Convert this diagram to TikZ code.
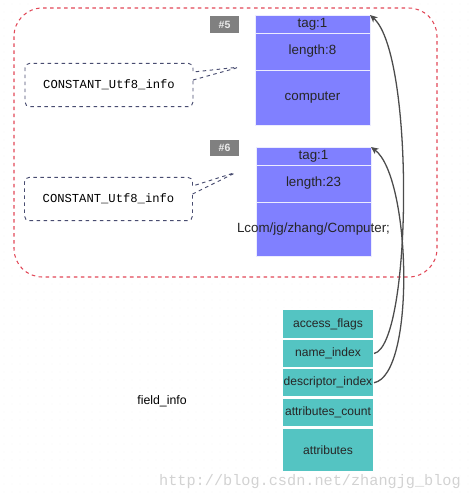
\documentclass[tikz,border=0pt]{standalone}
\usepackage{fontspec}
\setmainfont{Liberation Sans}
\newfontfamily\cpmono{Liberation Mono}
\usetikzlibrary{arrows.meta,positioning,shapes.callouts}
\definecolor{cpviolet}{RGB}{128,128,255}
\definecolor{cpteal}{RGB}{84,196,194}
\definecolor{cpred}{RGB}{226,72,88}
\definecolor{cpslate}{RGB}{72,76,112}
\definecolor{cpgray}{RGB}{128,128,128}
\tikzset{
  cprow/.style={draw=white!85!cpviolet,line width=0.8pt,fill=cpviolet,outer sep=0pt,minimum width=3.45cm,inner sep=0pt,font=\fontsize{11.4}{13}\selectfont,text=black!85},
  fdrow/.style={draw=white,line width=2.2pt,fill=cpteal,outer sep=0pt,minimum width=2.76cm,inner sep=0pt,font=\fontsize{10.3}{12}\selectfont,text=black!85},
  cpidx/.style={fill=cpgray,minimum width=0.87cm,minimum height=0.5cm,inner sep=0pt,font=\bfseries\fontsize{9}{10}\selectfont,text=white!92!black},
  cpnote/.style={rectangle callout,draw=cpslate,dashed,line width=0.8pt,rounded corners=4pt,fill=white,minimum width=5.04cm,minimum height=1.3cm,callout pointer width=0.24cm,font=\cpmono\fontsize{10.4}{12}\selectfont},
  cpref/.style={-{Stealth[length=2.2mm,width=2mm,inset=0.6mm]},line width=1.1pt,black!70},
}
\begin{document}
\begin{tikzpicture}[x=0.03cm,y=-0.03cm]
\useasboundingbox (0,0) rectangle (474,500);
% ---- dotted canvas
\foreach \X in {4,12,...,470}{
  \foreach \Y in {4,12,...,498}{
    \fill[gray!22] (\X,\Y) circle (0.35pt);}}
% ---- constant pool frame
\draw[cpred,dashed,line width=0.9pt,fill=white,rounded corners=0.85cm] (14,8) rectangle (437,277);
% ---- entry #5
\node[cpidx] (idx5) at (224.5,24.5) {\#5};
\node[cprow,minimum height=0.54cm,anchor=north west] (t5tag) at (255,15) {tag:1};
\node[cprow,minimum height=1.11cm,below=0pt of t5tag] (t5len) {length:8};
\node[cprow,minimum height=1.65cm,below=0pt of t5len] (t5val) {computer};
% ---- entry #6
\node[cpidx] (idx6) at (224.5,148) {\#6};
\node[cprow,minimum height=0.54cm,anchor=north west] (t6tag) at (256,147) {tag:1};
\node[cprow,minimum height=1.11cm,below=0pt of t6tag] (t6len) {length:23};
\node[cprow,minimum height=1.62cm,below=0pt of t6len] (t6val) {\makebox[0pt]{Lcom/jg/zhang/Computer;}};
% ---- callouts
\coordinate (tip5) at (240,67);
\coordinate (tip6) at (237,172);
\node[cpnote,callout absolute pointer={(tip5)}] (note5) at (109,85) {CONSTANT\_Utf8\_info};
\node[cpnote,callout absolute pointer={(tip6)}] (note6) at (108.5,199) {CONSTANT\_Utf8\_info};
% ---- field_info
\node[fdrow,minimum height=0.9cm,anchor=north west] (fflags) at (282,309) {access\_flags};
\node[fdrow,minimum height=0.87cm,below=0pt of fflags] (fname) {name\_index};
\node[fdrow,minimum height=0.885cm,below=0pt of fname] (fdesc) {descriptor\_index};
\node[fdrow,minimum height=0.9cm,below=0pt of fdesc] (fcount) {attributes\_count};
\node[fdrow,minimum height=1.335cm,below=0pt of fcount] (fattr) {attributes};
\node[font=\fontsize{10.5}{12}\selectfont] (finfo) at (162,401) {field\_info};
% ---- index references
\draw[cpref] (fname.east) .. controls +(38,-8) and +(45,40) .. (t5tag.north east);
\draw[cpref] (fdesc.east) .. controls +(42,-8) and +(40,30) .. (t6tag.north east);
% ---- watermark
\node[font=\cpmono\fontsize{13}{14}\selectfont,text=gray!35] (mark) at (310,482) {http://blog.csdn.net/zhangjg\_blog};
\end{tikzpicture}
\end{document}
